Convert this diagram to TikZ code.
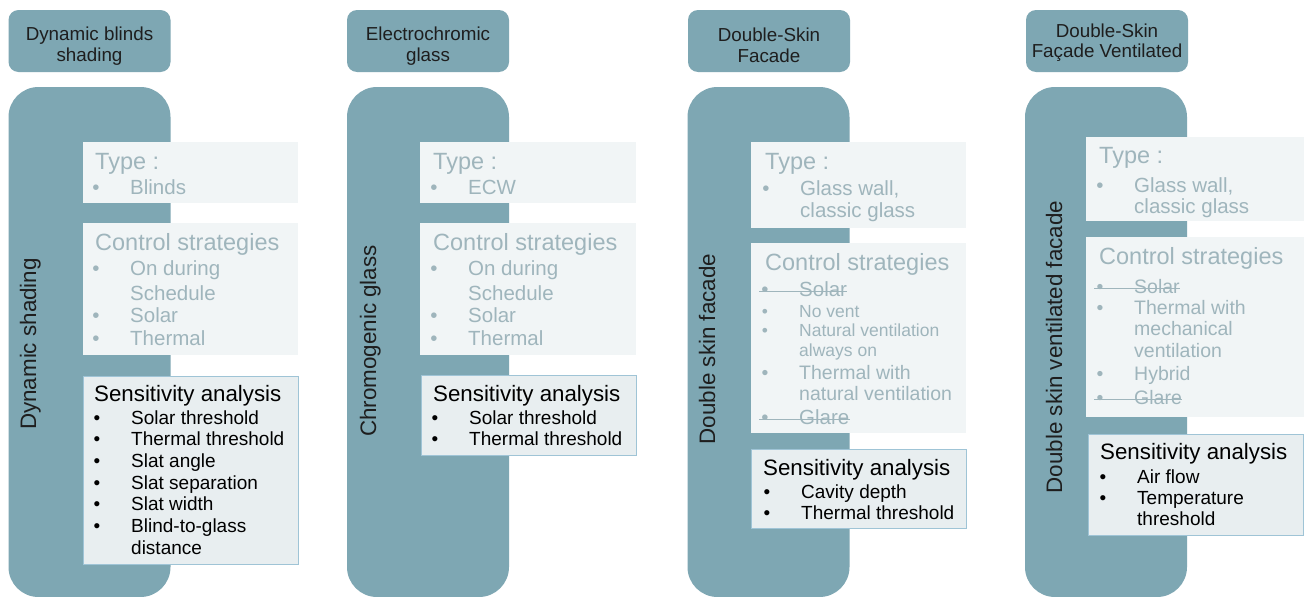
\documentclass[tikz,border=0pt]{standalone}
\usepackage{fontspec}
\setmainfont{Liberation Sans}
\usetikzlibrary{calc}
\definecolor{boxc}{HTML}{7EA7B3}
\definecolor{lightbox}{HTML}{F1F5F6}
\definecolor{graytxt}{HTML}{9FB5BC}
\definecolor{sensfill}{HTML}{E8EEF0}
\definecolor{sensborder}{HTML}{9FC4D6}
\definecolor{titletxt}{HTML}{1E1E1E}
\tikzset{
 tall/.style={fill=boxc, draw=none, rounded corners=30pt, minimum width=162pt, minimum height=510pt, inner sep=0pt},
 ttlbox/.style={fill=boxc, rounded corners=10pt, minimum width=162pt, minimum height=62pt, inner sep=0pt},
 ttltext/.style={font=\fontsize{18.8}{21}\selectfont, text=titletxt, inner sep=0pt, anchor=base},
 lbox/.style={fill=lightbox, anchor=north west, inner sep=0pt},
 sbox/.style={fill=sensfill, draw=sensborder, line width=1pt, anchor=north west, inner sep=0pt},
 gh/.style={font=\fontsize{23.5}{28}\selectfont, text=graytxt, inner sep=0pt, anchor=mid west, yshift=-5pt},
 gi/.style={font=\fontsize{20.5}{24}\selectfont, text=graytxt, inner sep=0pt, yshift=-5pt},
 gm/.style={font=\fontsize{19.5}{23}\selectfont, text=graytxt, inner sep=0pt, yshift=-5pt},
 gs/.style={font=\fontsize{17.5}{21}\selectfont, text=graytxt, inner sep=0pt, yshift=-4.5pt},
 sh/.style={font=\fontsize{22.3}{26}\selectfont, text=black, inner sep=0pt, anchor=mid west, yshift=-5pt},
 si/.style={font=\fontsize{19}{22}\selectfont, text=black, inner sep=0pt, yshift=-5pt},
 vt/.style={font=\fontsize{22.4}{26}\selectfont, text=titletxt, rotate=90, anchor=base, inner sep=0pt},
 strike/.style={draw=graytxt, line width=1.1pt},
}
\newcommand\myitem[5]{%
  \node[#4, anchor=mid] (#1b) at (#2,#3) {•};
  \node[#4, anchor=mid west] (#1) at (#2+34,#3) {#5};}
\newcommand\mycont[5]{%
  \node[#4, anchor=mid west] (#1) at (#2+34,#3) {#5};}
\begin{document}
\begin{tikzpicture}[x=1pt,y=-1pt]
\useasboundingbox (0,0) rectangle (1304,597);
\fill[white] (0,0) rectangle (1304,597);

% ---------- column 1 ----------
\node[ttlbox] (t1) at (89.5,41) {};
\node[ttltext] (t1a) at (89.5,40) {Dynamic blinds};
\node[ttltext] (t1b) at (89.5,61) {shading};
\node[tall] (b1) at (89.5,342) {};
\node[vt] (v1) at (36,344) {Dynamic shading};
\node[lbox, minimum width=215pt, minimum height=61pt] (ty1) at (83,142) {};
\node[gh] (ty1h) at (95,162) {Type :};
\myitem{ty1a}{96}{187}{gi}{Blinds}
\node[lbox, minimum width=215pt, minimum height=132pt] (cs1) at (83,223) {};
\node[gh] (cs1h) at (95,243) {Control strategies};
\myitem{cs1a}{96}{268}{gi}{On during}
\mycont{cs1a2}{96}{293}{gi}{Schedule}
\myitem{cs1b}{96}{315}{gi}{Solar}
\myitem{cs1c}{96}{338}{gi}{Thermal}
\node[sbox, minimum width=215pt, minimum height=188pt] (sa1) at (83,376) {};
\node[sh] (sa1h) at (94,394) {Sensitivity analysis};
\myitem{sa1a}{97}{417}{si}{Solar threshold}
\myitem{sa1b}{97}{438}{si}{Thermal threshold}
\myitem{sa1c}{97}{460}{si}{Slat angle}
\myitem{sa1d}{97}{482}{si}{Slat separation}
\myitem{sa1e}{97}{503}{si}{Slat width}
\myitem{sa1f}{97}{525}{si}{Blind-to-glass}
\mycont{sa1f2}{97}{547}{si}{distance}

% ---------- column 2 ----------
\node[ttlbox] (t2) at (428,41) {};
\node[ttltext] (t2a) at (428,40) {Electrochromic};
\node[ttltext] (t2b) at (428,61) {glass};
\node[tall] (b2) at (428,342) {};
\node[vt] (v2) at (376,341) {Chromogenic glass};
\node[lbox, minimum width=216pt, minimum height=61pt] (ty2) at (420,142) {};
\node[gh] (ty2h) at (433,162) {Type :};
\myitem{ty2a}{434}{187}{gi}{ECW}
\node[lbox, minimum width=216pt, minimum height=132pt] (cs2) at (420,223) {};
\node[gh] (cs2h) at (433,243) {Control strategies};
\myitem{cs2a}{434}{268}{gi}{On during}
\mycont{cs2a2}{434}{293}{gi}{Schedule}
\myitem{cs2b}{434}{315}{gi}{Solar}
\myitem{cs2c}{434}{338}{gi}{Thermal}
\node[sbox, minimum width=215pt, minimum height=80pt] (sa2) at (421,375) {};
\node[sh] (sa2h) at (433,394) {Sensitivity analysis};
\myitem{sa2a}{435}{417}{si}{Solar threshold}
\myitem{sa2b}{435}{438}{si}{Thermal threshold}

% ---------- column 3 ----------
\node[ttlbox] (t3) at (769,41) {};
\node[ttltext] (t3a) at (769,41) {Double-Skin};
\node[ttltext] (t3b) at (769,62) {Facade};
\node[tall] (b3) at (768.5,342) {};
\node[vt] (v3) at (715,349) {Double skin facade};
\node[lbox, minimum width=215pt, minimum height=86pt] (ty3) at (751,142) {};
\node[gh] (ty3h) at (765,162) {Type :};
\myitem{ty3a}{766}{188}{gi}{Glass wall,}
\mycont{ty3a2}{766}{210}{gi}{classic glass}
\node[lbox, minimum width=215pt, minimum height=190pt] (cs3) at (751,243) {};
\node[gh] (cs3h) at (765,263) {Control strategies};
\myitem{cs3a}{765}{289}{gi}{Solar}
\myitem{cs3b}{765}{310}{gs}{No vent}
\myitem{cs3c}{765}{329}{gs}{Natural ventilation}
\mycont{cs3c2}{765}{349}{gs}{always on}
\myitem{cs3d}{765}{372}{gm}{Thermal with}
\mycont{cs3d2}{765}{393}{gm}{natural ventilation}
\myitem{cs3e}{765}{417}{gi}{Glare}
\draw[strike] ($(cs3ab.base west)+(-2,-5.5)$) -- ($(cs3a.base east)+(0,-5.5)$);
\draw[strike] ($(cs3eb.base west)+(-2,-5.5)$) -- ($(cs3e.base east)+(0,-5.5)$);
\node[sbox, minimum width=215pt, minimum height=79pt] (sa3) at (751,449) {};
\node[sh] (sa3h) at (763,468) {Sensitivity analysis};
\myitem{sa3a}{767}{491}{si}{Cavity depth}
\myitem{sa3b}{767}{512}{si}{Thermal threshold}

% ---------- column 4 ----------
\node[ttlbox] (t4) at (1107,41) {};
\node[ttltext] (t4a) at (1107,37) {Double-Skin};
\node[ttltext] (t4b) at (1107,57) {Façade Ventilated};
\node[tall] (b4) at (1106,342) {};
\node[vt] (v4) at (1062,347) {Double skin ventilated facade};
\node[lbox, minimum width=218pt, minimum height=84pt] (ty4) at (1086,137) {};
\node[gh] (ty4h) at (1099,156) {Type :};
\myitem{ty4a}{1100}{185}{gi}{Glass wall,}
\mycont{ty4a2}{1100}{206}{gi}{classic glass}
\node[lbox, minimum width=218pt, minimum height=180pt] (cs4) at (1086,237) {};
\node[gh] (cs4h) at (1099,257) {Control strategies};
\myitem{cs4a}{1100}{286}{gm}{Solar}
\myitem{cs4b}{1100}{307}{gm}{Thermal with}
\mycont{cs4b2}{1100}{328}{gm}{mechanical}
\mycont{cs4b3}{1100}{350}{gm}{ventilation}
\myitem{cs4c}{1100}{373}{gm}{Hybrid}
\myitem{cs4d}{1100}{397}{gm}{Glare}
\draw[strike] ($(cs4ab.base west)+(-2,-5.3)$) -- ($(cs4a.base east)+(0,-5.3)$);
\draw[strike] ($(cs4db.base west)+(-2,-5.3)$) -- ($(cs4d.base east)+(0,-5.3)$);
\node[sbox, minimum width=215pt, minimum height=101pt] (sa4) at (1088,434) {};
\node[sh] (sa4h) at (1100,452) {Sensitivity analysis};
\myitem{sa4a}{1103}{476}{si}{Air flow}
\myitem{sa4b}{1103}{497}{si}{Temperature}
\mycont{sa4b2}{1103}{518}{si}{threshold}
\end{tikzpicture}
\end{document}
